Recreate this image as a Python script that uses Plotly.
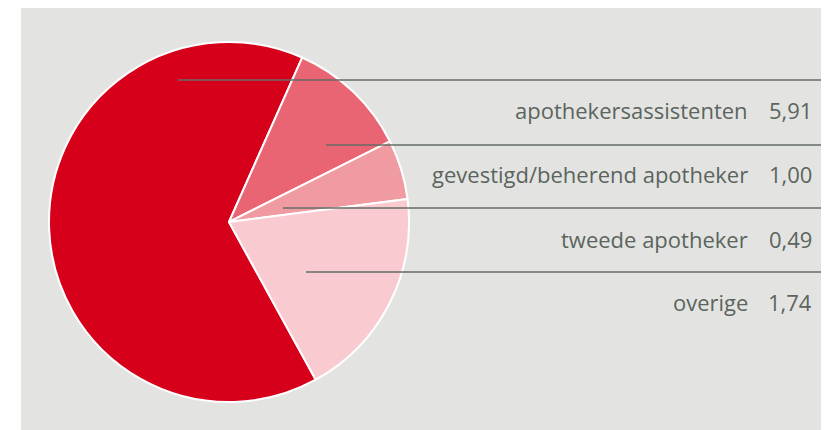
import plotly.graph_objects as go

# Data
labels = ["apothekersassistenten", "gevestigd/beherend apotheker", "tweede apotheker", "overige"]
values = [5.91, 1.00, 0.49, 1.74]
colors = ["#d7001b", "#e96573", "#f09aa1", "#f9cbd1"]

W, H = 829, 430
OFF = 8  # page body margin
text_color = "#5b645d"
line_color = "#636c66"


def px(x):
    return (x - OFF) / W


def py(y):
    return 1 - (y - OFF) / H


fig = go.Figure()

# centre (229, 222), radius 180 in pixels
cx, cy, r = 229, 222, 180
fig.add_trace(go.Pie(
    labels=labels,
    values=values,
    sort=False,
    direction="clockwise",
    rotation=151.2,
    marker=dict(colors=colors, line=dict(color="white", width=2)),
    textinfo="none",
    hoverinfo="label+value",
    showlegend=False,
    domain=dict(x=[px(cx - r), px(cx + r)], y=[py(cy + r), py(cy - r)]),
))

# grey panel
fig.add_shape(type="rect", xref="paper", yref="paper",
              x0=px(21), x1=1, y0=0, y1=py(8),
              fillcolor="#e3e4e2", line=dict(width=0), layer="below")

# leader lines (start x, y in px)
line_pos = [(178, 80), (326, 145), (283, 208), (306, 272)]
for x0, y in line_pos:
    fig.add_shape(type="line", xref="paper", yref="paper",
                  x0=px(x0), x1=1, y0=py(y), y1=py(y),
                  line=dict(color=line_color, width=1.3), layer="above")

# label texts
label_y = [110, 174, 239, 302]
for lab, val, y in zip(labels, values, label_y):
    fig.add_annotation(x=px(750), y=py(y), xref="paper", yref="paper",
                       text=lab, showarrow=False, xanchor="right", yanchor="middle",
                       font=dict(family="Open Sans", size=22, color=text_color))
    fig.add_annotation(x=px(814), y=py(y), xref="paper", yref="paper",
                       text=f"{val:.2f}".replace(".", ","), showarrow=False,
                       xanchor="right", yanchor="middle",
                       font=dict(family="Open Sans", size=22, color=text_color))

fig.update_layout(
    width=W, height=H,
    margin=dict(l=0, r=0, t=0, b=0),
    paper_bgcolor="white",
    plot_bgcolor="white",
)

fig.write_html("out.html")
